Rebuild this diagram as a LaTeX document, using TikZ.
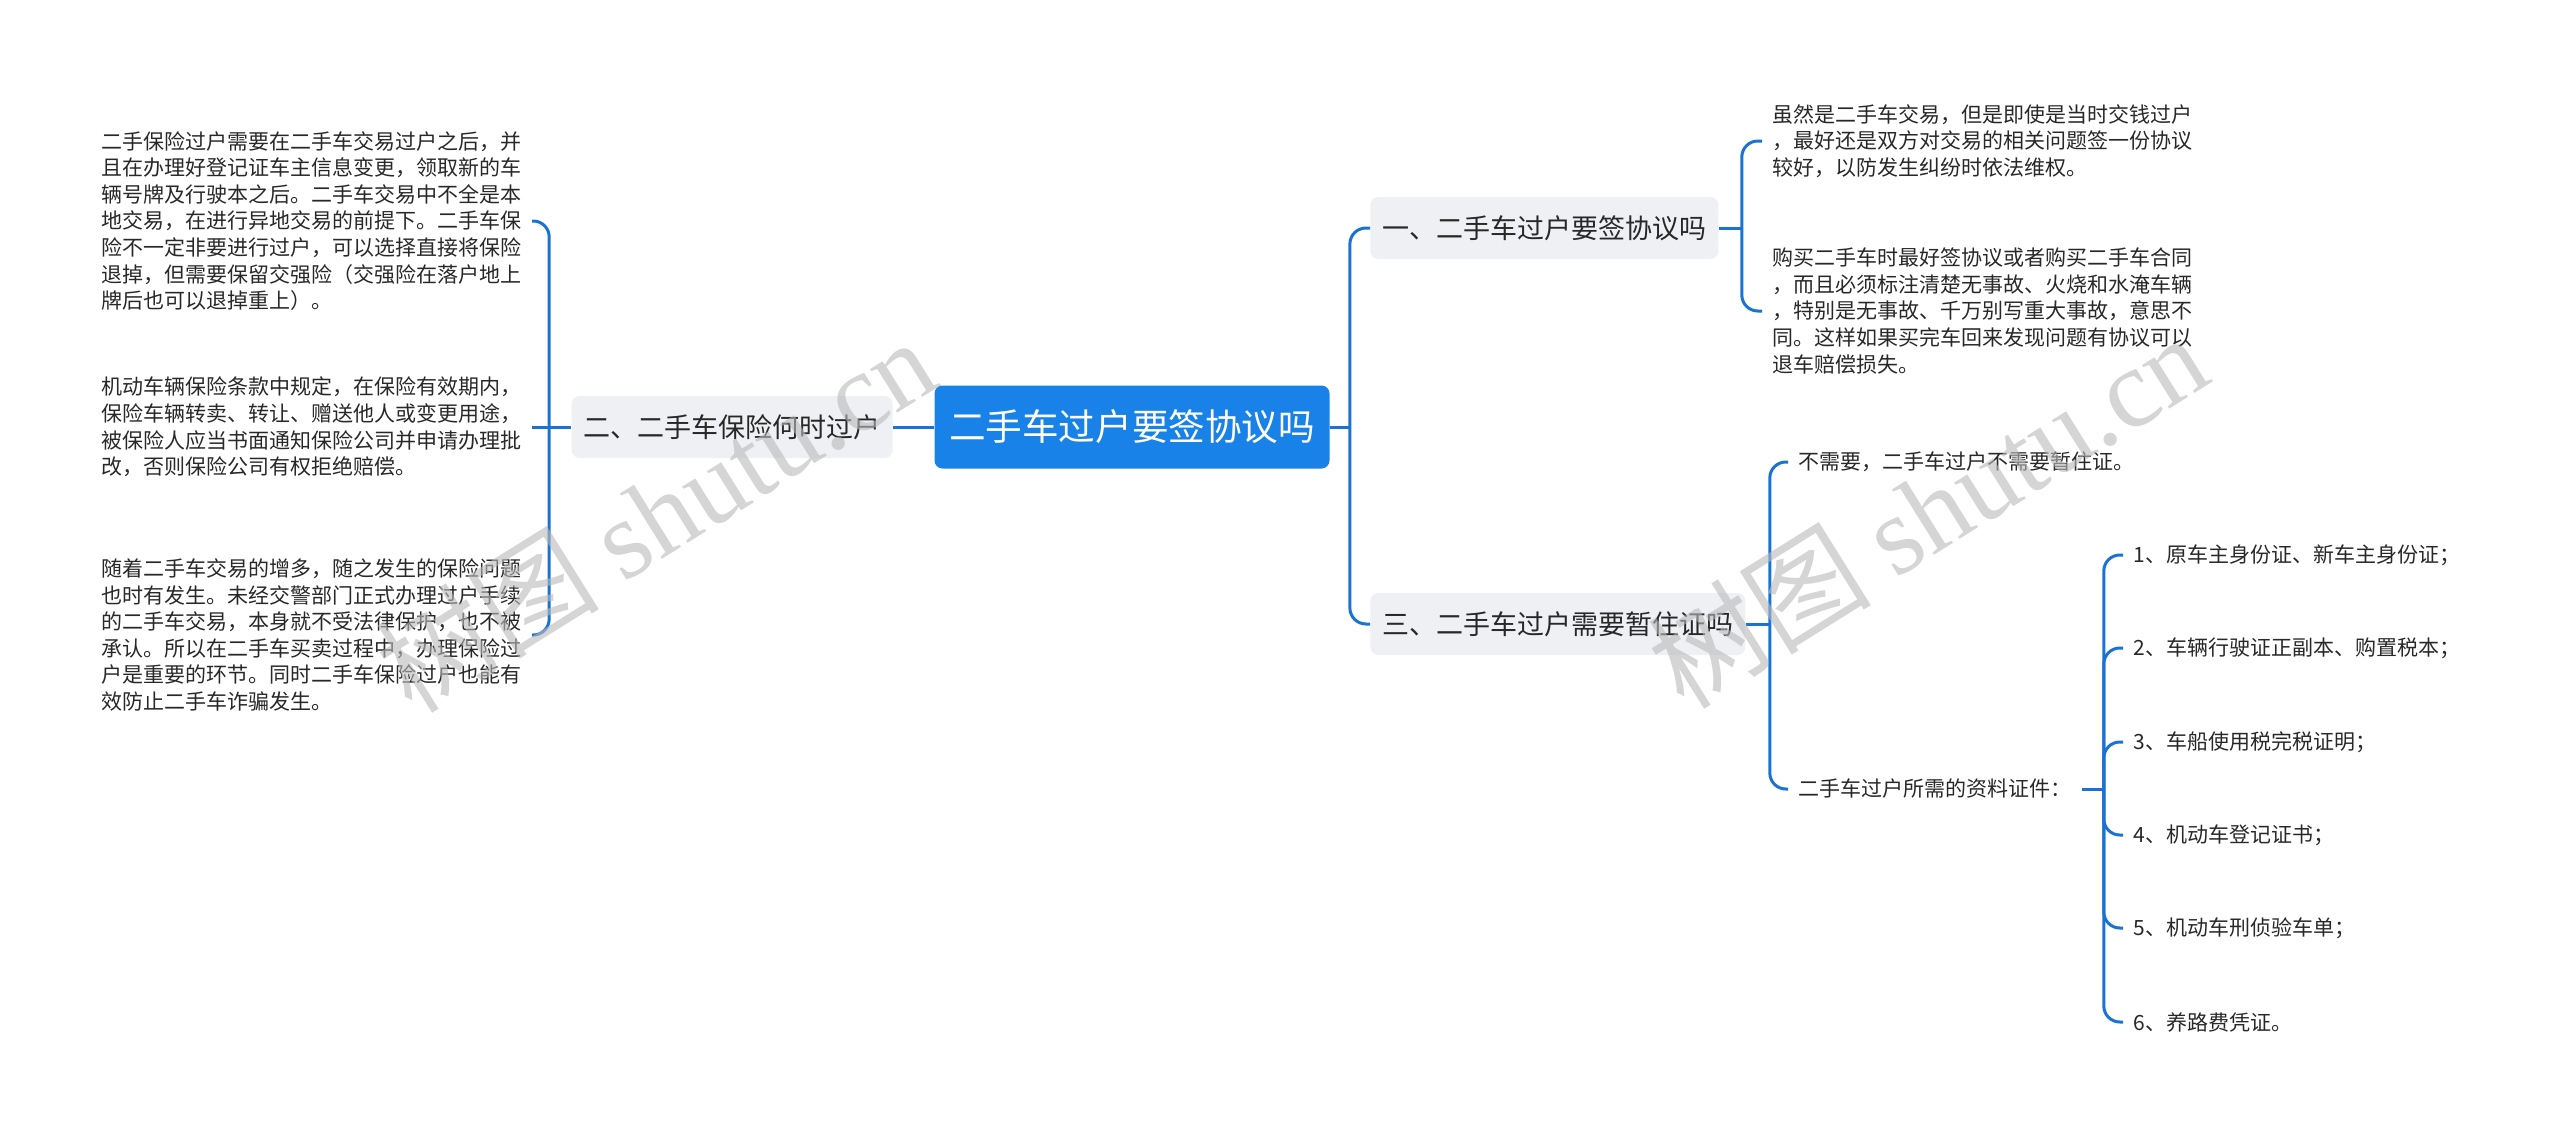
\documentclass[tikz,border=0pt]{standalone}
\usepackage{fontspec}
\setmainfont{Noto Sans CJK SC}
\newfontfamily\wmserif{Liberation Serif}
\usepackage{xcolor}
\definecolor{rootblue}{RGB}{24,130,232}
\definecolor{linkblue}{RGB}{26,115,210}
\definecolor{topicgray}{RGB}{238,240,243}
\definecolor{textdark}{RGB}{40,40,40}
\definecolor{wmgray}{RGB}{185,185,185}

\begin{document}
\begin{tikzpicture}[x=0.5pt,y=0.5pt,yscale=-1,xscale=1,
  link/.style={draw=linkblue, line width=1.5pt, rounded corners=8pt},
  stem/.style={draw=linkblue, line width=1.5pt},
  rootbox/.style={fill=rootblue, rounded corners=4pt, text=white, font=\fontsize{18.3}{22}\selectfont, minimum width=197.5pt, minimum height=41.5pt, inner sep=0pt},
  topicbox/.style={fill=topicgray, rounded corners=4pt, text=textdark, font=\fontsize{13.5}{16}\selectfont, inner xsep=6pt, inner ysep=0pt, minimum height=31pt},
  leaftext/.style={text=textdark, font=\fontsize{10.5}{13.3}\selectfont, align=left, inner xsep=5pt, inner ysep=2pt},
  wmtext/.style={text=wmgray, text opacity=0.6, rotate=32, font=\fontsize{56}{56}\selectfont}
]
\useasboundingbox (0,0) rectangle (2560,1135);

%Shape: Rectangle [root]
\node (root) [rootbox] at (1132,427) {二手车过户要签协议吗};

%Shape: Rectangle [topics]
\node (n1) [topicbox, anchor=west] at (1370,228) {一、二手车过户要签协议吗};
\node (n2) [topicbox, anchor=east] at (893,427) {二、二手车保险何时过户};
\node (n3) [topicbox, anchor=west] at (1370,624) {三、二手车过户需要暂住证吗};

% Text Node
\node (lf1) [leaftext, anchor=east] at (532,221) {二手保险过户需要在二手车交易过户之后，并\\且在办理好登记证车主信息变更，领取新的车\\辆号牌及行驶本之后。二手车交易中不全是本\\地交易，在进行异地交易的前提下。二手车保\\险不一定非要进行过户，可以选择直接将保险\\退掉，但需要保留交强险（交强险在落户地上\\牌后也可以退掉重上）。};
% Text Node
\node (lf2) [leaftext, anchor=east] at (532,427) {机动车辆保险条款中规定，在保险有效期内，\\保险车辆转卖、转让、赠送他人或变更用途，\\被保险人应当书面通知保险公司并申请办理批\\改，否则保险公司有权拒绝赔偿。};
% Text Node
\node (lf3) [leaftext, anchor=east] at (532,635) {随着二手车交易的增多，随之发生的保险问题\\也时有发生。未经交警部门正式办理过户手续\\的二手车交易，本身就不受法律保护，也不被\\承认。所以在二手车买卖过程中，办理保险过\\户是重要的环节。同时二手车保险过户也能有\\效防止二手车诈骗发生。};

% Text Node
\node (a1) [leaftext, anchor=west] at (1762,141) {虽然是二手车交易，但是即使是当时交钱过户\\，最好还是双方对交易的相关问题签一份协议\\较好，以防发生纠纷时依法维权。};
% Text Node
\node (a2) [leaftext, anchor=west] at (1762,311) {购买二手车时最好签协议或者购买二手车合同\\，而且必须标注清楚无事故、火烧和水淹车辆\\，特别是无事故、千万别写重大事故，意思不\\同。这样如果买完车回来发现问题有协议可以\\退车赔偿损失。};

% Text Node
\node (c1) [leaftext, anchor=west] at (1788,462) {不需要，二手车过户不需要暂住证。};
\node (c2) [leaftext, anchor=west] at (1788,789) {二手车过户所需的资料证件：};

% Text Node
\node (d1) [leaftext, anchor=west] at (2123,555) {1、原车主身份证、新车主身份证；};
\node (d2) [leaftext, anchor=west] at (2123,648) {2、车辆行驶证正副本、购置税本；};
\node (d3) [leaftext, anchor=west] at (2123,742) {3、车船使用税完税证明；};
\node (d4) [leaftext, anchor=west] at (2123,835) {4、机动车登记证书；};
\node (d5) [leaftext, anchor=west] at (2123,928) {5、机动车刑侦验车单；};
\node (d6) [leaftext, anchor=west] at (2123,1022) {6、养路费凭证。};

%Straight Lines [junctions]
\coordinate (jR) at ([xshift=10pt]root.east);
\coordinate (jL) at ([xshift=-11pt]n2.west);
\coordinate (j1) at ([xshift=11.5pt]n1.east);
\coordinate (j3) at ([xshift=12pt]n3.east);
\coordinate (jC) at ([xshift=11pt]c2.east);

\draw [stem] (root.west) -- (n2.east);
\draw [stem] (root.east) -- (jR);
\draw [link] (jR) |- (n1.west);
\draw [link] (jR) |- (n3.west);

\draw [stem] (n2.west) -- (jL);
\draw [link] (jL) |- (lf1.east);
\draw [stem] (jL) -- (lf2.east);
\draw [link] (jL) |- (lf3.east);

\draw [stem] (n1.east) -- (j1);
\draw [link] (j1) |- (a1.west);
\draw [link] (j1) |- (a2.west);

\draw [stem] (n3.east) -- (j3);
\draw [link] (j3) |- (c1.west);
\draw [link] (j3) |- (c2.west);

\draw [stem] (c2.east) -- (jC);
\foreach \d in {d1,d2,d3,d4,d5,d6}
  \draw [link] (jC) |- (\d.west);

% Text Node [watermarks]
\node (wm1) [wmtext] at (655,514) {树图 {\wmserif shutu.cn}};
\node (wm2) [wmtext] at (1927,510) {树图 {\wmserif shutu.cn}};

\end{tikzpicture}
\end{document}
